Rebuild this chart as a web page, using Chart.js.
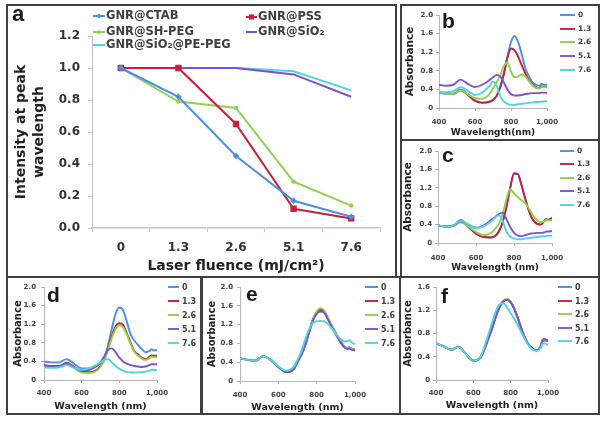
<!DOCTYPE html>
<html><head><meta charset="utf-8">
<script src="https://cdn.jsdelivr.net/npm/chart.js@4.4.1/dist/chart.umd.min.js"></script>
<style>
html,body{margin:0;padding:0;background:#fff;}
#root{position:relative;width:604px;height:421px;overflow:hidden;background:#fff;}
canvas{position:absolute;}
.box{position:absolute;border:2px solid #404040;box-sizing:border-box;pointer-events:none;z-index:2;}
.lbl{position:absolute;font-family:"Liberation Sans",Arial,sans-serif;font-weight:bold;font-size:21px;line-height:21px;color:#1a1a1a;z-index:3;}
</style></head><body>
<div id="root">
  <canvas id="ca" width="391" height="274" style="left:6px;top:4px"></canvas>
  <canvas id="cb" width="200" height="137" style="left:400px;top:4px"></canvas>
  <canvas id="cc" width="200" height="139" style="left:400px;top:139px"></canvas>
  <canvas id="cd" width="196" height="139" style="left:6px;top:276px"></canvas>
  <canvas id="ce" width="200" height="139" style="left:201px;top:276px"></canvas>
  <canvas id="cf" width="201" height="139" style="left:399px;top:276px"></canvas>
  <div class="box" style="left:6px;top:4px;width:391px;height:274px"></div>
  <div class="box" style="left:400px;top:4px;width:200px;height:137px"></div>
  <div class="box" style="left:400px;top:139px;width:200px;height:139px"></div>
  <div class="box" style="left:6px;top:276px;width:196px;height:139px"></div>
  <div class="box" style="left:201px;top:276px;width:200px;height:139px"></div>
  <div class="box" style="left:399px;top:276px;width:201px;height:139px"></div>
  <div class="lbl" style="left:12px;top:3px;font-size:22px;line-height:22px">a</div>
  <div class="lbl" style="left:442px;top:10px">b</div>
  <div class="lbl" style="left:442px;top:144px">c</div>
  <div class="lbl" style="left:47px;top:284px">d</div>
  <div class="lbl" style="left:246px;top:283px">e</div>
  <div class="lbl" style="left:441px;top:285px">f</div>
</div>
<script>
// ---------- Panel a data ----------
const fluenceLabels = ['0', '1.3', '2.6', '5.1', '7.6'];
const seriesNamesA = ['GNR@CTAB', 'GNR@PSS', 'GNR@SH-PEG', 'GNR@SiO\u2082', 'GNR@SiO\u2082@PE-PEG'];
const ctab = [1.0, 0.82, 0.45, 0.17, 0.07];
const pss = [1.0, 1.0, 0.65, 0.12, 0.06];
const shPeg = [1.0, 0.79, 0.75, 0.29, 0.14];
const sio2 = [1.0, 1.0, 1.0, 0.96, 0.82];
const sio2PePeg = [1.0, 1.0, 1.0, 0.98, 0.86];

// ---------- Spectra data (panels b-f) ----------
const wavelengths = [400, 440, 480, 520, 560, 600, 640, 680, 700, 720, 740, 760, 780, 800, 820, 840, 860, 880, 900, 920, 940, 960, 970, 980, 1000];
const spectraLabels = ['0', '1.3', '2.6', '5.1', '7.6'];

const b0  = [0.34,0.32,0.31,0.40,0.30,0.17,0.12,0.14,0.18,0.26,0.45,0.75,1.10,1.42,1.55,1.42,1.15,0.85,0.68,0.55,0.50,0.48,0.52,0.50,0.50];
const b13 = [0.33,0.31,0.30,0.38,0.28,0.15,0.11,0.13,0.17,0.26,0.45,0.72,1.08,1.28,1.24,1.10,0.92,0.74,0.60,0.50,0.45,0.43,0.47,0.45,0.46];
const b26 = [0.33,0.31,0.30,0.38,0.30,0.21,0.20,0.30,0.42,0.55,0.70,0.90,0.98,0.78,0.66,0.68,0.72,0.68,0.58,0.48,0.43,0.42,0.46,0.45,0.47];
const b51 = [0.50,0.48,0.50,0.61,0.52,0.45,0.50,0.60,0.66,0.71,0.68,0.55,0.40,0.30,0.27,0.27,0.28,0.30,0.31,0.32,0.32,0.32,0.33,0.33,0.32];
const b76 = [0.34,0.34,0.36,0.45,0.37,0.28,0.33,0.47,0.57,0.48,0.25,0.14,0.09,0.07,0.07,0.08,0.09,0.10,0.11,0.12,0.13,0.13,0.14,0.14,0.15];

const c0  = [0.38,0.36,0.38,0.50,0.36,0.20,0.13,0.12,0.15,0.25,0.45,0.78,1.20,1.50,1.50,1.25,0.95,0.68,0.50,0.42,0.40,0.48,0.52,0.50,0.55];
const c13 = [0.38,0.36,0.37,0.46,0.35,0.20,0.13,0.12,0.15,0.25,0.45,0.78,1.20,1.52,1.50,1.25,0.95,0.68,0.50,0.42,0.40,0.48,0.52,0.50,0.55];
const c26 = [0.38,0.36,0.37,0.45,0.36,0.24,0.17,0.22,0.30,0.42,0.62,0.95,1.17,1.08,1.00,0.93,0.86,0.74,0.60,0.50,0.45,0.47,0.50,0.49,0.50];
const c51 = [0.38,0.36,0.38,0.47,0.40,0.33,0.38,0.50,0.56,0.63,0.66,0.52,0.35,0.22,0.16,0.15,0.17,0.20,0.21,0.22,0.22,0.23,0.25,0.25,0.26];
const c76 = [0.38,0.36,0.38,0.48,0.40,0.32,0.36,0.47,0.55,0.60,0.48,0.25,0.14,0.10,0.08,0.08,0.10,0.11,0.12,0.13,0.14,0.15,0.15,0.16,0.16];

const d0  = [0.40,0.38,0.38,0.45,0.35,0.25,0.25,0.30,0.38,0.50,0.75,1.10,1.42,1.56,1.50,1.25,0.98,0.85,0.75,0.66,0.60,0.62,0.66,0.64,0.64];
const d13 = [0.32,0.30,0.30,0.37,0.28,0.18,0.17,0.22,0.30,0.45,0.68,0.95,1.15,1.22,1.18,1.00,0.80,0.62,0.55,0.48,0.45,0.50,0.53,0.52,0.52];
const d26 = [0.30,0.28,0.28,0.34,0.26,0.16,0.15,0.20,0.28,0.42,0.65,0.90,1.10,1.18,1.13,0.97,0.77,0.60,0.52,0.46,0.43,0.47,0.50,0.49,0.49];
const d51 = [0.30,0.29,0.29,0.36,0.28,0.20,0.22,0.30,0.38,0.50,0.65,0.68,0.60,0.48,0.40,0.35,0.32,0.30,0.29,0.28,0.29,0.32,0.34,0.34,0.34];
const d76 = [0.27,0.26,0.27,0.32,0.26,0.22,0.25,0.33,0.38,0.44,0.45,0.38,0.30,0.24,0.20,0.17,0.16,0.16,0.17,0.17,0.18,0.20,0.22,0.22,0.21];

const e0  = [0.48,0.45,0.43,0.53,0.45,0.30,0.19,0.26,0.42,0.58,0.78,1.05,1.30,1.45,1.51,1.47,1.32,1.17,1.02,0.88,0.76,0.70,0.72,0.70,0.67];
const e13 = [0.48,0.45,0.43,0.53,0.45,0.30,0.19,0.25,0.41,0.57,0.77,1.04,1.30,1.46,1.52,1.48,1.32,1.16,1.01,0.87,0.75,0.70,0.71,0.69,0.67];
const e26 = [0.48,0.45,0.43,0.53,0.45,0.30,0.19,0.25,0.40,0.56,0.76,1.03,1.30,1.48,1.55,1.50,1.34,1.17,1.02,0.87,0.75,0.70,0.71,0.69,0.67];
const e51 = [0.48,0.45,0.43,0.53,0.45,0.30,0.19,0.25,0.40,0.55,0.75,1.02,1.28,1.43,1.48,1.45,1.30,1.14,0.99,0.85,0.73,0.68,0.69,0.67,0.65];
const e76 = [0.48,0.45,0.43,0.53,0.45,0.31,0.22,0.30,0.45,0.63,0.88,1.10,1.23,1.27,1.28,1.27,1.21,1.11,1.00,0.91,0.84,0.85,0.87,0.83,0.78];

const f0  = [0.63,0.58,0.52,0.57,0.45,0.33,0.40,0.72,0.90,1.10,1.26,1.35,1.38,1.34,1.22,1.05,0.86,0.70,0.60,0.53,0.51,0.58,0.68,0.70,0.68];
const f13 = [0.63,0.58,0.52,0.57,0.45,0.33,0.40,0.71,0.89,1.09,1.25,1.35,1.38,1.34,1.22,1.05,0.86,0.70,0.59,0.53,0.51,0.57,0.66,0.68,0.67];
const f26 = [0.63,0.58,0.52,0.57,0.45,0.33,0.40,0.71,0.89,1.09,1.26,1.36,1.40,1.35,1.23,1.05,0.86,0.70,0.59,0.53,0.51,0.58,0.67,0.69,0.68];
const f51 = [0.63,0.58,0.52,0.57,0.45,0.33,0.39,0.70,0.88,1.08,1.25,1.35,1.38,1.34,1.22,1.05,0.86,0.70,0.59,0.53,0.51,0.58,0.68,0.70,0.68];
const f76 = [0.63,0.58,0.52,0.57,0.45,0.33,0.41,0.78,0.98,1.18,1.30,1.32,1.25,1.15,1.05,0.93,0.80,0.68,0.58,0.52,0.50,0.55,0.62,0.63,0.60];

// ---------- Styles ----------
const COLORS = ['#4a8fe3', '#c8203c', '#8fd14f', '#7b52d3', '#4fd5e0'];
const aMarkers = [{style:'rectRot', r:3.2}, {style:'rect', r:4.5}, {style:'circle', r:2.2}, {style:'circle', r:0}, {style:'circle', r:0}];

Chart.defaults.font.family = "'DejaVu Sans', sans-serif";
Chart.defaults.color = '#404040';

function drawMarker(ctx, style, r, x, y, color) {
  if (!r) return;
  ctx.fillStyle = color;
  ctx.beginPath();
  if (style === 'rect') { const h = r * 0.72; ctx.rect(x - h, y - h, 2 * h, 2 * h); }
  else if (style === 'rectRot') { ctx.moveTo(x, y - r); ctx.lineTo(x + r, y); ctx.lineTo(x, y + r); ctx.lineTo(x - r, y); ctx.closePath(); }
  else ctx.arc(x, y, r, 0, Math.PI * 2);
  ctx.fill();
}

const legendPlugin = {
  id: 'customLegend',
  afterDraw(chart, args, opts) {
    const ctx = chart.ctx;
    ctx.save();
    chart.data.datasets.forEach((ds, i) => {
      const it = opts.items[i];
      ctx.strokeStyle = ds.borderColor;
      ctx.lineWidth = opts.lineWidth;
      ctx.beginPath(); ctx.moveTo(it.x0, it.y); ctx.lineTo(it.x1, it.y); ctx.stroke();
      if (opts.markers) { const m = opts.markers[i]; drawMarker(ctx, m.style, m.r * 0.8, (it.x0 + it.x1) / 2, it.y, ds.borderColor); }
      ctx.fillStyle = opts.color;
      ctx.font = opts.font;
      ctx.textBaseline = 'middle';
      ctx.textAlign = 'left';
      ctx.fillText(ds.label, it.tx, it.y + 0.5);
    });
    ctx.restore();
  }
};

// ---------- Panel a ----------
const aSeries = [ctab, pss, shPeg, sio2, sio2PePeg];
new Chart(document.getElementById('ca'), {
  type: 'line',
  data: {
    labels: fluenceLabels,
    datasets: aSeries.map((vals, i) => ({
      label: seriesNamesA[i], data: vals, borderColor: COLORS[i], backgroundColor: COLORS[i],
      borderWidth: 2, pointStyle: aMarkers[i].style, pointRadius: aMarkers[i].r, pointBorderWidth: 0,
      tension: 0, fill: false
    }))
  },
  options: {
    responsive: false, animation: false, devicePixelRatio: 1, events: [],
    layout: { padding: { left: 0, top: 32, right: 17, bottom: 0 } },
    plugins: {
      legend: { display: false }, tooltip: { enabled: false },
      customLegend: {
        lineWidth: 2, color: '#404040', font: "bold 11.5px 'DejaVu Sans', sans-serif", markers: aMarkers,
        items: [
          {x0: 87, x1: 99, tx: 100, y: 12},
          {x0: 240, x1: 251, tx: 252, y: 13},
          {x0: 87, x1: 99, tx: 100, y: 28},
          {x0: 240, x1: 251, tx: 252, y: 28},
          {x0: 87, x1: 99, tx: 100, y: 41}
        ]
      }
    },
    scales: {
      x: {
        type: 'category', offset: true,
        grid: { offset: true, drawOnChartArea: false, drawTicks: true, tickLength: 4, color: '#b9c4d8' },
        border: { display: true, color: '#b9c6dc', width: 1.5 },
        ticks: { font: { size: 12, weight: 'bold' }, color: '#333', padding: 9, maxRotation: 0 },
        title: { display: true, text: 'Laser fluence (mJ/cm\u00b2)', font: { size: 14, weight: 'bold', lineHeight: 1.3 }, color: '#222', padding: { top: 0, bottom: 3 } },
        afterFit: s => { s.height = 50; }
      },
      y: {
        min: 0, max: 1.2,
        grid: { drawOnChartArea: false, drawTicks: true, tickLength: 4, color: '#c4c4c4' },
        border: { display: true, color: '#c0c0c0', width: 1 },
        ticks: { stepSize: 0.2, font: { size: 12, weight: 'bold' }, color: '#333', padding: 8, callback: v => Number(v).toFixed(1) },
        title: { display: true, text: ['Intensity at peak', 'wavelength'], font: { size: 14, weight: 'bold', lineHeight: 1.3 }, color: '#222', padding: { top: 6, bottom: 0 } },
        afterFit: s => { s.width = 86; }
      }
    }
  },
  plugins: [legendPlugin]
});

// ---------- Spectra panels ----------
function spectrum(id, series, cfg) {
  new Chart(document.getElementById(id), {
    type: 'line',
    data: {
      datasets: series.map((vals, i) => ({
        label: spectraLabels[i],
        data: wavelengths.map((w, j) => ({ x: w, y: vals[j] })),
        borderColor: COLORS[i], backgroundColor: COLORS[i], borderWidth: 1.9,
        pointRadius: 0, tension: 0.4, cubicInterpolationMode: 'monotone', fill: false, order: 5 - i
      }))
    },
    options: {
      responsive: false, animation: false, devicePixelRatio: 1, events: [],
      layout: { padding: { left: 0, top: cfg.top, right: cfg.right, bottom: 0 } },
      plugins: {
        legend: { display: false }, tooltip: { enabled: false },
        customLegend: {
          lineWidth: 1.9, color: '#404040', font: "bold " + cfg.legSize + "px 'DejaVu Sans', sans-serif",
          items: cfg.legYs.map(y => ({ x0: cfg.legX0, x1: cfg.legX1, tx: cfg.legTx, y: y }))
        }
      },
      scales: {
        x: {
          type: 'linear', min: 400, max: 1000,
          grid: { drawOnChartArea: false, drawTicks: true, tickLength: 3, color: '#b0b0b0' },
          border: { display: true, color: '#b8b8b8', width: 1 },
          ticks: { stepSize: 200, font: { size: 7, weight: 'bold' }, color: '#444', padding: cfg.xPad, maxRotation: 0, autoSkip: false },
          title: { display: true, text: cfg.xTitle, font: { size: cfg.xtSize, weight: 'bold', lineHeight: 1.25 }, color: '#222', padding: { top: 0, bottom: cfg.xtPad } },
          afterFit: s => { s.height = cfg.xh; }
        },
        y: {
          min: 0, max: cfg.yMax,
          grid: { drawOnChartArea: false, drawTicks: true, tickLength: 3, color: '#b0b0b0' },
          border: { display: true, color: '#b8b8b8', width: 1 },
          ticks: { stepSize: 0.4, font: { size: 7, weight: 'bold' }, color: '#444', padding: cfg.yPad },
          title: { display: true, text: 'Absorbance', font: { size: cfg.ytSize, weight: 'bold', lineHeight: 1.25 }, color: '#222', padding: { top: cfg.ytPad, bottom: 0 } },
          afterFit: s => { s.width = cfg.yw; }
        }
      }
    },
    plugins: [legendPlugin]
  });
}

spectrum('cb', [b0, b13, b26, b51, b76], {
  top: 11, right: 53, yw: 39, xh: 33, yMax: 2, yPad: 3, ytPad: 4, ytSize: 10.5, xPad: 7, xtPad: 2.5, xtSize: 9,
  xTitle: 'Wavelength(nm)', legX0: 160, legX1: 175, legTx: 178, legYs: [11, 25, 38, 52, 66], legSize: 7.5
});
spectrum('cc', [c0, c13, c26, c51, c76], {
  top: 12, right: 48, yw: 38, xh: 35, yMax: 2, yPad: 3, ytPad: 2, ytSize: 10.5, xPad: 8, xtPad: 4.5, xtSize: 9,
  xTitle: 'Wavelength (nm)', legX0: 160, legX1: 174, legTx: 177, legYs: [12, 25, 39, 52, 66], legSize: 7.5
});
spectrum('cd', [d0, d13, d26, d51, d76], {
  top: 11, right: 45, yw: 38, xh: 35, yMax: 2, yPad: 5, ytPad: 6, ytSize: 10, xPad: 6, xtPad: 2.5, xtSize: 9.5,
  xTitle: 'Wavelength (nm)', legX0: 162, legX1: 173, legTx: 176, legYs: [11, 25, 39, 53, 67], legSize: 8
});
spectrum('ce', [e0, e13, e26, e51, e76], {
  top: 11, right: 46, yw: 39, xh: 34, yMax: 2, yPad: 4, ytPad: 5, ytSize: 10, xPad: 7, xtPad: 1.5, xtSize: 9.5,
  xTitle: 'Wavelength (nm)', legX0: 164, legX1: 177, legTx: 180, legYs: [11, 25, 39, 53, 67], legSize: 8
});
spectrum('cf', [f0, f13, f26, f51, f76], {
  top: 11, right: 52, yw: 37, xh: 35, yMax: 1.6, yPad: 3, ytPad: 3, ytSize: 10, xPad: 6, xtPad: 3.5, xtSize: 9.5,
  xTitle: 'Wavelength (nm)', legX0: 159, legX1: 173, legTx: 176, legYs: [11, 25, 38, 52, 65], legSize: 8
});
</script>
</body></html>
